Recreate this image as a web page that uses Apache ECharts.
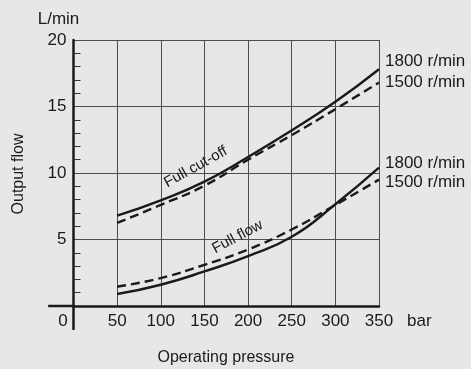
<!DOCTYPE html>
<html>
<head>
<meta charset="utf-8">
<script src="https://cdn.jsdelivr.net/npm/echarts@6/dist/echarts.min.js"></script>
<style>
html,body{margin:0;padding:0;background:#e6e7e9;}
#c{width:471px;height:369px;}
</style>
</head>
<body>
<div id="c"></div>
<script>
// ---- data ----
const pressure = [50, 100, 150, 200, 250, 300, 350];             // bar
const cutoff1800 = [6.8, 7.95, 9.35, 11.2, 13.2, 15.35, 17.8];   // L/min, solid
const cutoff1500 = [6.25, 7.6, 9.05, 11.0, 12.85, 14.8, 16.8];   // L/min, dashed
const flow1800 = [0.9, 1.6, 2.6, 3.75, 5.2, 7.65, 10.4];         // L/min, solid
const flow1500 = [1.45, 2.1, 3.1, 4.25, 5.75, 7.6, 9.5];         // L/min, dashed
const xMin = 0, xMax = 350, xStep = 50;
const yMin = 0, yMax = 20, yStep = 5;
const speedLabels = ['1800 r/min', '1500 r/min'];
const groupLabels = ['Full cut-off', 'Full flow'];
const labelAnchors = [[140, 10.45], [188, 5.2]];

const FONT = '"Liberation Sans", Arial, Helvetica, sans-serif';
const INK = '#1a1a1a';
const GRID = '#4d4d4d';
const FS = 17;

function pairs(xs, ys) { return xs.map((x, i) => [x, ys[i]]); }

function lineSeries(name, ys, dashed, endText, endOffset, mark) {
  const s = {
    name: name,
    type: 'line',
    data: pairs(pressure, ys),
    smooth: 0.5,
    symbol: 'none',
    silent: true,
    lineStyle: { color: INK, width: 2.4, type: dashed ? [9, 5] : 'solid', cap: 'butt' },
    endLabel: {
      show: true, formatter: endText, distance: 6, offset: endOffset,
      fontSize: FS, color: INK, fontFamily: FONT
    },
    z: 5
  };
  if (mark) {
    s.markPoint = {
      silent: true,
      symbol: 'circle', symbolSize: 0,
      data: [{
        coord: mark.coord,
        label: {
          show: true, formatter: mark.text, position: 'inside', rotate: mark.rotate,
          fontSize: 15, color: INK, fontFamily: FONT
        }
      }]
    };
  }
  return s;
}

const chart = echarts.init(document.getElementById('c'), null, { renderer: 'canvas' });

const option = {
  backgroundColor: '#e6e7e9',
  animation: false,
  textStyle: { fontFamily: FONT, color: INK },
  grid: { left: 73.5, right: 92, top: 40, bottom: 63, containLabel: false },
  xAxis: {
    type: 'value', min: xMin, max: xMax, interval: xStep,
    axisLine: { show: true, onZero: false, lineStyle: { color: INK, width: 2.5 } },
    axisTick: { show: false },
    splitLine: { show: true, lineStyle: { color: GRID, width: 1 } },
    axisLabel: {
      fontSize: FS, color: INK, margin: 7, fontFamily: FONT,
      formatter: v => v === 0 ? '{z|0}' : String(v),
      rich: { z: { fontSize: FS, color: INK, fontFamily: FONT, padding: [0, 21, 0, 0] } }
    },
    name: 'bar', nameLocation: 'end', nameGap: 28,
    nameTextStyle: { fontSize: FS, color: INK, fontFamily: FONT, verticalAlign: 'top', padding: [7, 0, 0, 0] }
  },
  yAxis: {
    type: 'value', min: yMin, max: yMax, interval: yStep,
    axisLine: { show: true, onZero: false, lineStyle: { color: INK, width: 2.5 } },
    axisTick: { show: false, inside: true },
    minorTick: { show: true, splitNumber: 5, length: 7, lineStyle: { color: '#333', width: 1 } },
    splitLine: { show: true, lineStyle: { color: GRID, width: 1 } },
    axisLabel: {
      fontSize: FS, color: INK, margin: 7, fontFamily: FONT,
      formatter: v => v === 0 ? '' : String(v)
    },
    name: 'L/min', nameLocation: 'end', nameGap: 12,
    nameTextStyle: { fontSize: FS, color: INK, fontFamily: FONT, align: 'center', padding: [0, 30, 0, 0] }
  },
  series: [
    lineSeries('cutoff1800', cutoff1800, false, speedLabels[0], [0, -8],
      { coord: labelAnchors[0], text: groupLabels[0], rotate: 29 }),
    lineSeries('cutoff1500', cutoff1500, true, speedLabels[1], [0, 0], null),
    lineSeries('flow1800', flow1800, false, speedLabels[0], [0, -4],
      { coord: labelAnchors[1], text: groupLabels[1], rotate: 28 }),
    lineSeries('flow1500', flow1500, true, speedLabels[1], [0, 3], null)
  ]
};
chart.setOption(option);

// axis extensions (x axis continues left of the y axis, y axis continues below the x axis)
const pLeft = chart.convertToPixel({ gridIndex: 0 }, [-29, 0]);
const pOrigin = chart.convertToPixel({ gridIndex: 0 }, [0, 0]);
const pBelow = chart.convertToPixel({ gridIndex: 0 }, [0, -1.8]);
chart.setOption({
  graphic: [
    { type: 'line', silent: true, z: 10,
      shape: { x1: pLeft[0], y1: pLeft[1], x2: pOrigin[0], y2: pOrigin[1] },
      style: { stroke: INK, lineWidth: 2.5 } },
    { type: 'line', silent: true, z: 10,
      shape: { x1: pOrigin[0], y1: pOrigin[1] - 1, x2: pBelow[0], y2: pBelow[1] },
      style: { stroke: INK, lineWidth: 2.5 } },
    { type: 'text', silent: true, x: 19, y: 174, rotation: Math.PI / 2,
      style: { text: 'Output flow', fontSize: 16, fontFamily: FONT, fill: INK, align: 'center', verticalAlign: 'middle' } },
    { type: 'text', silent: true, x: 226, y: 358,
      style: { text: 'Operating pressure', fontSize: 16, fontFamily: FONT, fill: INK, align: 'center', verticalAlign: 'middle' } }
  ]
});
</script>
</body>
</html>
